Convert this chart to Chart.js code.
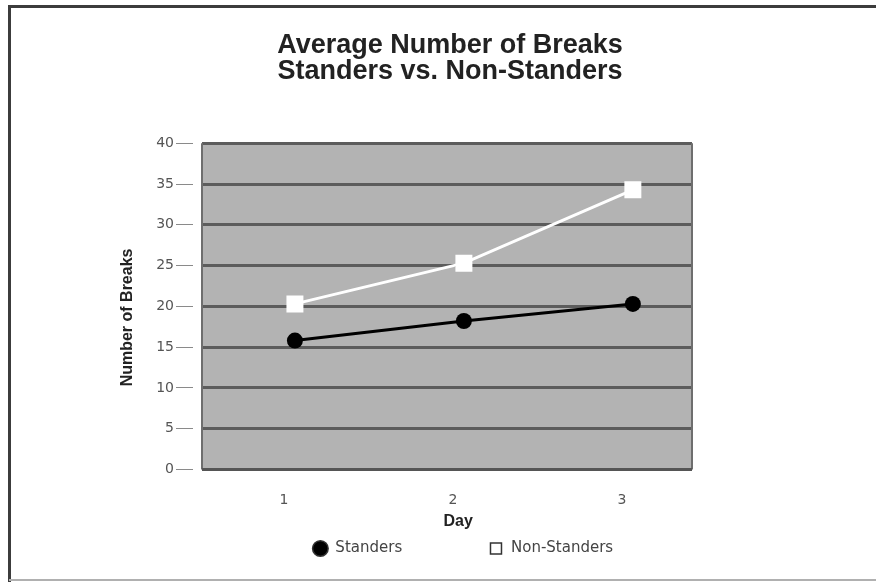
<!DOCTYPE html>
<html>
<head>
<meta charset="utf-8">
<script src="https://cdn.jsdelivr.net/npm/chart.js@4.4.1/dist/chart.umd.min.js"></script>
<style>
  html, body { margin: 0; padding: 0; background: #fff; }
  #wrap { width: 876px; height: 582px; }
</style>
</head>
<body>
<div id="wrap"><canvas id="breaksChart" width="876" height="582"></canvas></div>
<script>
const days = [1, 2, 3];
const standers = [15.8, 18.2, 20.3];
const nonStanders = [20.3, 25.3, 34.3];
const titleLines = ["Average Number of Breaks", "Standers vs. Non-Standers"];
const seriesNames = ["Standers", "Non-Standers"];

const NB = "\u00a0";

// page frame + gray plot background
const framePlugin = {
  id: "frame",
  afterLayout(chart) {
    // title and legend are not centred on the plot in the original
    const t = chart.titleBlock, l = chart.legend;
    const dt = 450 - (t.left + t.right) / 2;
    t.left += dt; t.right += dt;
    const dl = 463 - (l.left + l.right) / 2;
    l.left += dl; l.right += dl;
  },
  beforeDraw(chart) {
    const ctx = chart.ctx, a = chart.chartArea;
    ctx.save();
    ctx.fillStyle = "#fff";
    ctx.fillRect(0, 0, chart.width, chart.height);
    ctx.strokeStyle = "#3c3c3c";
    ctx.lineWidth = 3;
    ctx.beginPath();
    ctx.moveTo(9.5, chart.height);
    ctx.lineTo(9.5, 6.5);
    ctx.lineTo(chart.width, 6.5);
    ctx.stroke();
    ctx.strokeStyle = "#b0b0b0";
    ctx.lineWidth = 2;
    ctx.beginPath();
    ctx.moveTo(9, 580);
    ctx.lineTo(chart.width, 580);
    ctx.stroke();
    ctx.fillStyle = "#b3b3b3";
    ctx.fillRect(a.left, a.top, a.right - a.left, a.bottom - a.top);
    ctx.restore();
  },
  beforeDatasetsDraw(chart) {
    const ctx = chart.ctx, a = chart.chartArea;
    ctx.save();
    ctx.strokeStyle = "#6e6e6e";
    ctx.lineWidth = 2;
    ctx.beginPath();
    ctx.moveTo(a.left, a.top);
    ctx.lineTo(a.left, a.bottom);
    ctx.moveTo(a.right, a.top);
    ctx.lineTo(a.right, a.bottom);
    ctx.stroke();
    ctx.strokeStyle = "#555";
    ctx.lineWidth = 3;
    ctx.beginPath();
    ctx.moveTo(a.left, a.bottom);
    ctx.lineTo(a.right, a.bottom);
    ctx.stroke();
    ctx.restore();
  }
};

new Chart(document.getElementById("breaksChart"), {
  type: "line",
  data: {
    datasets: [
      {
        label: seriesNames[0],
        data: days.map((d, i) => ({ x: d, y: standers[i] })),
        borderColor: "#000",
        borderWidth: 3,
        pointStyle: "circle",
        pointRadius: 8,
        pointBackgroundColor: "#000",
        pointBorderColor: "#000",
        pointBorderWidth: 0,
        tension: 0
      },
      {
        label: seriesNames[1],
        data: days.map((d, i) => ({ x: d, y: nonStanders[i] })),
        borderColor: "#fff",
        borderWidth: 3,
        pointStyle: "rect",
        pointRadius: 12,
        pointBackgroundColor: "#fff",
        pointBorderColor: "#fff",
        pointBorderWidth: 0,
        tension: 0
      }
    ]
  },
  options: {
    responsive: false,
    animation: false,
    layout: { padding: { left: 118, right: 184, top: 0, bottom: 16 } },
    scales: {
      x: {
        type: "linear",
        min: 0.45,
        max: 3.35,
        afterBuildTicks(scale) {
          scale.ticks = days.map(d => ({ value: d }));
        },
        afterFit(scale) { scale.height = 61.6; },
        grid: { display: false, drawTicks: false },
        border: { display: false },
        ticks: {
          padding: 23,
          labelOffset: -11,
          color: "#555",
          font: { family: "DejaVu Sans", size: 14 }
        },
        title: {
          display: true,
          text: NB + NB + NB + NB + NB + "Day",
          color: "#222",
          padding: { top: 0, bottom: 0 },
          font: { family: "Liberation Sans", size: 16, weight: "bold" }
        }
      },
      y: {
        min: 0,
        max: 40,
        afterFit(scale) { scale.width = 84; },
        border: { display: false },
        grid: {
          color: "#5c5c5c",
          lineWidth: 3,
          tickColor: "#8a8a8a",
          tickWidth: 1,
          tickLength: 26,
          tickBorderDash: [17, 40]
        },
        ticks: {
          stepSize: 5,
          padding: 2,
          color: "#555",
          font: { family: "DejaVu Sans", size: 14 }
        },
        title: {
          display: true,
          text: "Number of Breaks" + NB.repeat(5),
          color: "#222",
          padding: { top: 0, bottom: 0 },
          font: { family: "Liberation Sans", size: 16, weight: "bold" }
        }
      }
    },
    plugins: {
      title: {
        display: true,
        text: titleLines,
        color: "#222",
        padding: { top: 33, bottom: 59 },
        font: { family: "Liberation Sans", size: 27, weight: "bold", lineHeight: 0.95 }
      },
      legend: {
        position: "bottom",
        labels: {
          usePointStyle: true,
          boxHeight: 11,
          padding: 10,
          color: "#444",
          font: { family: "DejaVu Sans", size: 15 },
          generateLabels(chart) {
            const items = Chart.defaults.plugins.legend.labels.generateLabels(chart);
            items.forEach((it, i) => {
              it.strokeStyle = "#333";
              it.lineWidth = 1.5;
              if (i === 0) {
                it.fillStyle = "#000";
                it.text = it.text + NB.repeat(16);
              }
            });
            return items;
          }
        }
      },
      tooltip: { enabled: false }
    }
  },
  plugins: [framePlugin]
});
</script>
</body>
</html>
